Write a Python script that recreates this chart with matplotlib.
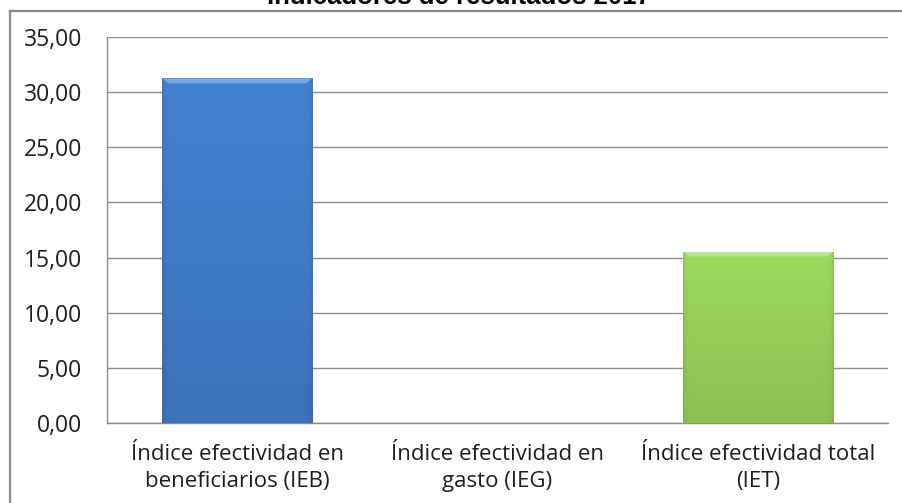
import numpy as np
import matplotlib
matplotlib.use("Agg")
import matplotlib.pyplot as plt
from matplotlib.lines import Line2D

title = "Indicadores de resultados 2017"
categories = ["Índice efectividad en\nbeneficiarios (IEB)",
              "Índice efectividad en\ngasto (IEG)",
              "Índice efectividad total\n(IET)"]
values = [31.25, 0.0, 15.55]
bar_colors = ["#4282d2", "#4282d2", "#9edb5e"]
yticks = [0, 5, 10, 15, 20, 25, 30, 35]

plt.rcParams["font.family"] = ["Open Sans", "DejaVu Sans"]

fig = plt.figure(figsize=(9.02, 5.03), dpi=100)
W, H = 902, 503
ax = fig.add_axes([107 / W, (H - 423) / H, 781 / W, 386 / H])

bars = ax.bar(range(len(values)), values, width=0.577, color=bar_colors,
              edgecolor="none", zorder=2)


def shade(hex_color, n=300):
    # soft vertical gradient with darker side edges and a bevelled top
    base = np.array(matplotlib.colors.to_rgb(hex_color))
    yy = np.linspace(0, 1, n)[:, None]   # 0 bottom .. 1 top
    xx = np.linspace(0, 1, n)[None, :]
    f = 0.88 + 0.12 * yy
    edge = np.minimum(xx, 1 - xx)
    f = f * (1 - 0.10 * np.exp(-edge / 0.015))
    img = np.clip(base[None, None, :] * f[:, :, None], 0, 1)
    return img[::-1]


for b, c in zip(bars, bar_colors):
    h = b.get_height()
    if h <= 0:
        continue
    x0, w = b.get_x(), b.get_width()
    im = ax.imshow(shade(c), extent=(x0, x0 + w, 0, h), aspect="auto",
                   zorder=3, interpolation="bilinear")
    im.set_clip_path(b)
    # light bevel on top with slanted corners
    dh = 0.45
    dw = w * 0.04
    ax.fill([x0, x0 + w, x0 + w - dw, x0 + dw], [h, h, h - dh, h - dh],
            color="white", alpha=0.3, zorder=4, linewidth=0)

ax.set_xlim(-0.5, len(values) - 0.5)
ax.set_ylim(0, 35)
ax.set_yticks(yticks)
ax.set_yticklabels([f"{v:.2f}".replace(".", ",") for v in yticks])
ax.set_xticks(range(len(values)))
ax.set_xticklabels(categories, linespacing=1.4)
ax.yaxis.grid(True, color="#8c8c8c", linewidth=1.0, zorder=0)
ax.set_axisbelow(True)
ax.tick_params(axis="y", length=0, pad=18, labelsize=16.5, labelcolor="#1e1e1e")
ax.tick_params(axis="x", length=0, pad=15, labelsize=16, labelcolor="#1e1e1e")
for s in ["top", "right"]:
    ax.spines[s].set_visible(False)
for s in ["left", "bottom"]:
    ax.spines[s].set_color("#8c8c8c")
    ax.spines[s].set_linewidth(1.0)

# chart border (cropped at the bottom and right)
fig.add_artist(Line2D([10 / W, 1.0], [(H - 11) / H] * 2, color="#888888", lw=1.6))
fig.add_artist(Line2D([10 / W] * 2, [0, (H - 11) / H], color="#888888", lw=1.6))

fig.text(459 / W, (H - 4.5) / H, title, ha="center", va="baseline",
         fontfamily="Liberation Sans", fontweight="bold", fontsize=18.5)

fig.savefig("out.png", dpi=100)
